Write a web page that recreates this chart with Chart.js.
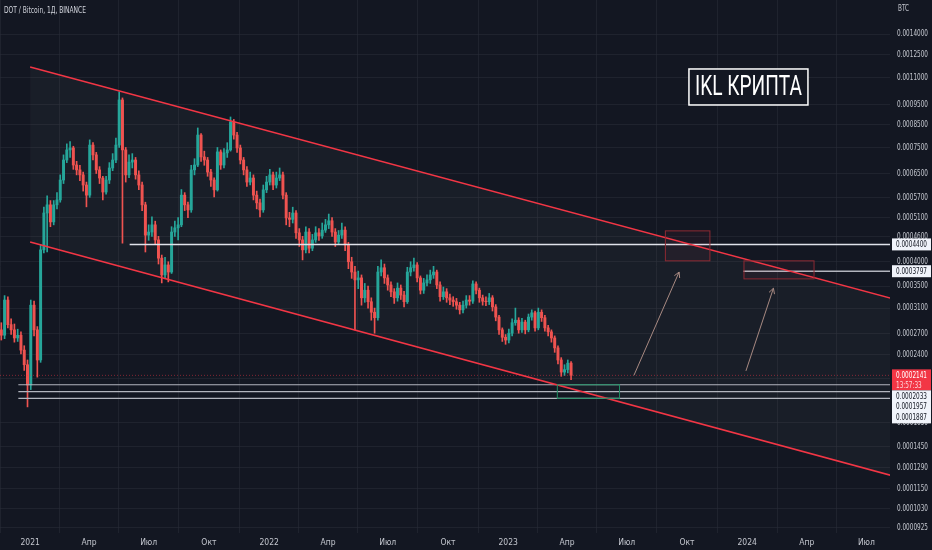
<!DOCTYPE html>
<html>
<head>
<meta charset="utf-8">
<script src="https://cdn.jsdelivr.net/npm/chart.js@4.4.1/dist/chart.umd.min.js"></script>
<style>
  html, body { margin: 0; padding: 0; background: #131722; }
  #wrap { width: 932px; height: 550px; }
</style>
</head>
<body>
<div id="wrap"><canvas id="myChart"></canvas></div>
<script>
// candles: one every 5 days, open = previous close
const firstCandleDay = "2020-11-18";
const candleStepDays = 5;
const firstOpen = 2.75e-4;

const closes = [
  2.67e-4, 3.24e-4, 2.83e-4, 2.75e-4, 2.63e-4, 2.67e-4, 2.46e-4, 2.27e-4, 2.03e-4, 3.15e-4,
  2.75e-4, 2.33e-4, 4.27e-4, 5.23e-4, 5.47e-4, 4.98e-4, 5.47e-4, 5.62e-4, 6.27e-4, 7.00e-4,
  7.40e-4, 7.48e-4, 6.81e-4, 6.63e-4, 6.45e-4, 6.10e-4, 5.77e-4, 7.60e-4, 7.20e-4, 6.63e-4,
  6.34e-4, 5.87e-4, 6.27e-4, 6.70e-4, 7.00e-4, 7.60e-4, 9.74e-4, 7.40e-4, 6.45e-4, 6.92e-4,
  7.00e-4, 6.45e-4, 6.10e-4, 5.47e-4, 4.63e-4, 4.71e-4, 4.90e-4, 4.51e-4, 4.08e-4, 3.72e-4,
  3.93e-4, 3.78e-4, 4.71e-4, 4.82e-4, 4.90e-4, 5.77e-4, 5.47e-4, 5.32e-4, 6.63e-4, 6.81e-4,
  8.03e-4, 7.12e-4, 7.00e-4, 6.55e-4, 6.27e-4, 5.94e-4, 7.32e-4, 6.81e-4, 7.28e-4, 7.40e-4,
  8.63e-4, 8.03e-4, 7.48e-4, 7.00e-4, 6.63e-4, 6.20e-4, 6.34e-4, 5.77e-4, 5.53e-4, 5.32e-4,
  5.94e-4, 6.20e-4, 6.45e-4, 6.10e-4, 6.34e-4, 6.45e-4, 5.77e-4, 5.09e-4, 5.05e-4, 5.23e-4,
  4.69e-4, 4.51e-4, 4.27e-4, 4.71e-4, 4.31e-4, 4.51e-4, 4.69e-4, 4.61e-4, 4.76e-4, 4.90e-4,
  5.01e-4, 4.71e-4, 4.46e-4, 4.63e-4, 4.76e-4, 4.39e-4, 4.00e-4, 3.78e-4, 3.62e-4, 3.66e-4,
  3.28e-4, 3.42e-4, 3.21e-4, 3.03e-4, 2.94e-4, 3.78e-4, 3.87e-4, 3.66e-4, 3.52e-4, 3.39e-4,
  3.28e-4, 3.46e-4, 3.33e-4, 3.21e-4, 3.78e-4, 3.87e-4, 3.93e-4, 3.66e-4, 3.42e-4, 3.56e-4,
  3.62e-4, 3.72e-4, 3.78e-4, 3.52e-4, 3.30e-4, 3.39e-4, 3.28e-4, 3.24e-4, 3.21e-4, 3.15e-4,
  3.07e-4, 3.15e-4, 3.24e-4, 3.22e-4, 3.54e-4, 3.42e-4, 3.28e-4, 3.22e-4, 3.21e-4, 3.28e-4,
  3.12e-4, 2.95e-4, 2.75e-4, 2.64e-4, 2.60e-4, 2.70e-4, 2.86e-4, 2.90e-4, 2.75e-4, 2.87e-4,
  2.75e-4, 2.95e-4, 3.02e-4, 2.78e-4, 3.03e-4, 2.94e-4, 2.78e-4, 2.72e-4, 2.63e-4, 2.49e-4,
  2.33e-4, 2.18e-4, 2.21e-4, 2.29e-4, 2.141e-4
];

const highs = [
  2.86e-4, 3.32e-4, 3.30e-4, 2.92e-4, 2.84e-4, 2.76e-4, 2.72e-4, 2.52e-4, 2.33e-4, 3.24e-4,
  3.22e-4, 2.80e-4, 4.40e-4, 5.40e-4, 5.75e-4, 5.60e-4, 5.60e-4, 5.85e-4, 6.45e-4, 7.20e-4,
  7.65e-4, 7.75e-4, 7.55e-4, 6.95e-4, 6.80e-4, 6.55e-4, 6.20e-4, 7.82e-4, 7.70e-4, 7.30e-4,
  6.75e-4, 6.40e-4, 6.40e-4, 6.90e-4, 7.25e-4, 7.90e-4, 10.18e-4, 9.85e-4, 7.50e-4, 7.20e-4,
  7.25e-4, 7.10e-4, 6.60e-4, 6.20e-4, 5.55e-4, 4.90e-4, 5.12e-4, 5.00e-4, 4.60e-4, 4.15e-4,
  4.10e-4, 4.00e-4, 4.85e-4, 5.00e-4, 5.10e-4, 5.95e-4, 5.85e-4, 5.55e-4, 6.80e-4, 7.05e-4,
  8.35e-4, 8.10e-4, 7.35e-4, 7.10e-4, 6.65e-4, 6.35e-4, 7.50e-4, 7.40e-4, 7.45e-4, 7.70e-4,
  8.87e-4, 8.75e-4, 8.15e-4, 7.60e-4, 7.10e-4, 6.75e-4, 6.55e-4, 6.45e-4, 5.90e-4, 5.65e-4,
  6.10e-4, 6.40e-4, 6.65e-4, 6.55e-4, 6.55e-4, 6.70e-4, 6.55e-4, 5.85e-4, 5.25e-4, 5.40e-4,
  5.30e-4, 4.80e-4, 4.60e-4, 4.85e-4, 4.80e-4, 4.65e-4, 4.85e-4, 4.80e-4, 4.95e-4, 5.05e-4,
  5.20e-4, 5.10e-4, 4.80e-4, 4.75e-4, 4.95e-4, 4.85e-4, 4.45e-4, 4.10e-4, 3.90e-4, 3.80e-4,
  3.72e-4, 3.55e-4, 3.50e-4, 3.28e-4, 3.10e-4, 3.90e-4, 4.04e-4, 3.95e-4, 3.72e-4, 3.58e-4,
  3.45e-4, 3.56e-4, 3.52e-4, 3.40e-4, 3.88e-4, 4.00e-4, 4.08e-4, 3.98e-4, 3.70e-4, 3.65e-4,
  3.72e-4, 3.82e-4, 3.90e-4, 3.82e-4, 3.58e-4, 3.48e-4, 3.45e-4, 3.35e-4, 3.30e-4, 3.27e-4,
  3.20e-4, 3.22e-4, 3.32e-4, 3.32e-4, 3.60e-4, 3.58e-4, 3.46e-4, 3.33e-4, 3.30e-4, 3.36e-4,
  3.32e-4, 3.16e-4, 2.98e-4, 2.78e-4, 2.68e-4, 2.76e-4, 2.92e-4, 3.10e-4, 2.94e-4, 2.93e-4,
  2.90e-4, 3.00e-4, 3.07e-4, 3.05e-4, 3.10e-4, 3.07e-4, 2.98e-4, 2.82e-4, 2.75e-4, 2.66e-4,
  2.52e-4, 2.36e-4, 2.27e-4, 2.33e-4, 2.31e-4
];

const lows = [
  2.60e-4, 2.62e-4, 2.78e-4, 2.68e-4, 2.57e-4, 2.58e-4, 2.41e-4, 2.20e-4, 1.80e-4, 1.98e-4,
  2.66e-4, 2.12e-4, 2.30e-4, 4.20e-4, 4.22e-4, 4.85e-4, 4.90e-4, 5.35e-4, 5.55e-4, 6.15e-4,
  6.90e-4, 7.10e-4, 6.65e-4, 6.45e-4, 6.25e-4, 5.90e-4, 5.41e-4, 5.70e-4, 7.00e-4, 6.50e-4,
  6.15e-4, 5.62e-4, 5.80e-4, 6.15e-4, 6.60e-4, 6.90e-4, 7.50e-4, 4.43e-4, 6.20e-4, 6.35e-4,
  6.70e-4, 6.30e-4, 5.95e-4, 5.30e-4, 4.22e-4, 4.50e-4, 4.60e-4, 4.40e-4, 3.95e-4, 3.56e-4,
  3.65e-4, 3.58e-4, 3.75e-4, 4.60e-4, 4.51e-4, 4.85e-4, 5.30e-4, 5.10e-4, 5.25e-4, 6.45e-4,
  6.75e-4, 6.95e-4, 6.80e-4, 6.40e-4, 6.05e-4, 5.71e-4, 5.90e-4, 6.65e-4, 6.70e-4, 7.10e-4,
  7.35e-4, 7.85e-4, 7.30e-4, 6.85e-4, 6.45e-4, 6.05e-4, 6.10e-4, 5.62e-4, 5.35e-4, 5.12e-4,
  5.25e-4, 5.85e-4, 6.10e-4, 5.95e-4, 6.00e-4, 6.25e-4, 5.65e-4, 4.90e-4, 4.85e-4, 4.95e-4,
  4.55e-4, 4.35e-4, 4.04e-4, 4.20e-4, 4.20e-4, 4.25e-4, 4.45e-4, 4.50e-4, 4.55e-4, 4.70e-4,
  4.80e-4, 4.60e-4, 4.35e-4, 4.40e-4, 4.55e-4, 4.25e-4, 3.85e-4, 3.65e-4, 2.75e-4, 3.45e-4,
  3.15e-4, 3.20e-4, 3.10e-4, 2.90e-4, 2.70e-4, 2.90e-4, 3.70e-4, 3.55e-4, 3.42e-4, 3.30e-4,
  3.18e-4, 3.22e-4, 3.25e-4, 3.12e-4, 3.18e-4, 3.70e-4, 3.80e-4, 3.58e-4, 3.35e-4, 3.36e-4,
  3.50e-4, 3.55e-4, 3.65e-4, 3.45e-4, 3.22e-4, 3.25e-4, 3.20e-4, 3.16e-4, 3.13e-4, 3.08e-4,
  3.00e-4, 3.02e-4, 3.10e-4, 3.15e-4, 3.18e-4, 3.35e-4, 3.20e-4, 3.15e-4, 3.14e-4, 3.16e-4,
  3.05e-4, 2.89e-4, 2.68e-4, 2.58e-4, 2.54e-4, 2.56e-4, 2.66e-4, 2.82e-4, 2.70e-4, 2.71e-4,
  2.69e-4, 2.72e-4, 2.90e-4, 2.73e-4, 2.75e-4, 2.88e-4, 2.73e-4, 2.66e-4, 2.57e-4, 2.43e-4,
  2.28e-4, 2.13e-4, 2.14e-4, 2.17e-4, 2.09e-4
];

// axis ticks
const xTickDates = [
  "2021-01-01", "2021-04-01", "2021-07-01", "2021-10-01",
  "2022-01-01", "2022-04-01", "2022-07-01", "2022-10-01",
  "2023-01-01", "2023-04-01", "2023-07-01", "2023-10-01",
  "2024-01-01", "2024-04-01", "2024-07-01"
];
const xTickLabels = [
  "2021", "Апр", "Июл", "Окт", "2022", "Апр", "Июл", "Окт",
  "2023", "Апр", "Июл", "Окт", "2024", "Апр", "Июл"
];
const yTicks = [
  0.0014, 0.00125, 0.0011, 0.00095, 0.00085, 0.00075, 0.00065, 0.00057,
  0.00051, 0.00046, 0.0004, 0.00035, 0.00031, 0.00027, 0.00024, 0.00021,
  0.000165, 0.000145, 0.000129, 0.000115, 0.000103, 0.0000925
];
const xRange = ["2020-11-16", "2024-08-06"];
const yRange = [0.00008995, 0.001688];

// drawings
const channelUpper = [["2021-01-01", 0.001168], ["2024-09-01", 0.0003196]];
const channelLower = [["2021-01-01", 0.000446], ["2024-09-01", 0.0001206]];
const levelLines = [
  { price: 0.00044, from: "2021-06-02", label: "0.0004400" },
  { price: 0.0003797, from: "2023-12-26", label: "0.0003797" },
  { price: 0.0002033, from: "2020-12-14", label: "0.0002033" },
  { price: 0.0001957, from: "2020-12-14", label: "0.0001957" },
  { price: 0.0001887, from: "2020-12-14", label: "0.0001887" }
];
const lastPrice = 0.0002141;
const lastPriceTimer = "13:57:33";
const targetBoxes = [
  { from: "2023-08-29", to: "2023-11-05", top: 0.000474, bottom: 0.000402 },
  { from: "2023-12-27", to: "2024-04-12", top: 0.000402, bottom: 0.000364 }
];
const supportBox = { from: "2023-03-17", to: "2023-06-20", top: 0.0002033, bottom: 0.0001887 };
const arrows = [
  [["2023-07-12", 0.0002141], ["2023-09-19", 0.000378]],
  [["2023-12-30", 0.0002194], ["2024-02-10", 0.0003457]]
];
const brandText = "IKL КРИПТА";
const brandAt = ["2023-10-04", 0.001155];
const titleText = "DOT / Bitcoin, 1Д, BINANCE";

const DAY0 = Date.UTC(2021, 0, 1);
const day = (s) => (Date.parse(s) - DAY0) / 86400000;

const FONT = '"Liberation Sans Narrow", "DejaVu Sans Condensed", "Roboto Condensed", Roboto, sans-serif';
const TEXT = "#c3c6ce";
const GRID = "rgba(42,46,57,0.55)";
const UP = "#26a69a";
const DOWN = "#ef5350";

// build candles
const start = day(firstCandleDay);
const opens = closes.map((c, i) => (i === 0 ? firstOpen : closes[i - 1]));
const candleColors = closes.map((c, i) => (c >= opens[i] ? UP : DOWN));
const wickData = closes.map((c, i) => ({ x: start + i * candleStepDays, y: [lows[i], highs[i]] }));
const bodyData = closes.map((c, i) => ({ x: start + i * candleStepDays, y: [opens[i], c] }));

const toPoints = (arr) => arr.map(([d, v]) => ({ x: day(d), y: v }));
const lineSet = (data, color, width, order, extra) => Object.assign({
  type: "line", data, borderColor: color, borderWidth: width,
  pointRadius: 0, fill: false, order
}, extra || {});

const levelSets = levelLines.map((l, i) =>
  lineSet([{ x: day(l.from), y: l.price }, { x: day(xRange[1]) + 30, y: l.price }],
    i === 0 ? "#e0e3eb" : "#b2b5be", i < 2 ? 1.5 : 1.2, 3));

// draw text squeezed horizontally to look like the narrow chart font
function narrowText(ctx, text, x, y, sx) {
  ctx.save();
  ctx.translate(x, y);
  ctx.scale(sx, 1);
  ctx.fillText(text, 0, 0);
  ctx.restore();
}

const overlay = {
  id: "overlay",
  afterDatasetsDraw(chart) {
    const { ctx, chartArea: a, scales: { x, y } } = chart;
    const px = (d) => x.getPixelForValue(day(d));
    const py = (v) => y.getPixelForValue(v);
    ctx.save();
    ctx.beginPath();
    ctx.rect(a.left, a.top, a.width, a.height);
    ctx.clip();

    targetBoxes.forEach((b) => {
      const x0 = px(b.from), x1 = px(b.to), y0 = py(b.top), y1 = py(b.bottom);
      ctx.fillStyle = "rgba(242,54,69,0.05)";
      ctx.fillRect(x0, y0, x1 - x0, y1 - y0);
      ctx.strokeStyle = "#8e2a33";
      ctx.lineWidth = 1;
      ctx.strokeRect(x0, y0, x1 - x0, y1 - y0);
    });

    const sb = supportBox;
    ctx.strokeStyle = "#1f8f63";
    ctx.lineWidth = 1;
    ctx.strokeRect(px(sb.from), py(sb.top), px(sb.to) - px(sb.from), py(sb.bottom) - py(sb.top));

    ctx.strokeStyle = "#a88a82";
    ctx.lineWidth = 1;
    arrows.forEach(([p0, p1]) => {
      const x0 = px(p0[0]), y0 = py(p0[1]), x1 = px(p1[0]), y1 = py(p1[1]);
      const ang = Math.atan2(y1 - y0, x1 - x0);
      ctx.beginPath();
      ctx.moveTo(x0, y0);
      ctx.lineTo(x1, y1);
      ctx.moveTo(x1 - 6 * Math.cos(ang - 0.5), y1 - 6 * Math.sin(ang - 0.5));
      ctx.lineTo(x1, y1);
      ctx.lineTo(x1 - 6 * Math.cos(ang + 0.5), y1 - 6 * Math.sin(ang + 0.5));
      ctx.stroke();
    });

    // brand label
    const bx = px(brandAt[0]), by = py(brandAt[1]);
    ctx.fillStyle = "#131722";
    ctx.fillRect(bx, by, 119, 36);
    ctx.strokeStyle = "#ffffff";
    ctx.lineWidth = 1.5;
    ctx.strokeRect(bx, by, 119, 36);
    ctx.font = "28px Roboto, sans-serif";
    ctx.fillStyle = "#ffffff";
    ctx.textBaseline = "middle";
    narrowText(ctx, brandText, bx + 6, by + 19, 107 / ctx.measureText(brandText).width);
    ctx.restore();
  },
  afterDraw(chart) {
    const { ctx, chartArea: a, scales: { y } } = chart;
    ctx.save();
    ctx.textBaseline = "middle";

    ctx.font = "9.5px " + FONT;
    ctx.fillStyle = "#d1d4dc";
    narrowText(ctx, titleText, 4, 11, 82 / ctx.measureText(titleText).width);

    ctx.font = "9px " + FONT;
    const sx = 31 / ctx.measureText("0.0014000").width;
    ctx.fillStyle = TEXT;
    narrowText(ctx, "BTC", a.right + 8, 9, sx);
    yTicks.forEach((v) => {
      narrowText(ctx, v.toFixed(7), a.right + 7, y.getPixelForValue(v), sx);
    });

    const bx = a.right + 2, bw = 39;
    const tag = (yc, h, bg, lines, fg) => {
      ctx.fillStyle = bg;
      ctx.fillRect(bx, yc, bw, h);
      lines.forEach((t, i) => {
        ctx.fillStyle = fg[i];
        narrowText(ctx, t, bx + 4, yc + 6 + i * 10.5, sx);
      });
    };
    tag(y.getPixelForValue(levelLines[0].price) - 6, 12, "#f0f3fa", [levelLines[0].label], ["#131722"]);
    tag(y.getPixelForValue(levelLines[1].price) - 6, 12, "#f0f3fa", [levelLines[1].label], ["#131722"]);
    const ly = y.getPixelForValue(lastPrice) - 6;
    tag(ly, 21, "#f23645", [lastPrice.toFixed(7), lastPriceTimer], ["#ffffff", "rgba(255,255,255,0.8)"]);
    tag(ly + 21, 33, "#f0f3fa", levelLines.slice(2).map((l) => l.label), ["#131722", "#131722", "#131722"]);
    ctx.restore();
  }
};

new Chart(document.getElementById("myChart"), {
  type: "bar",
  data: {
    datasets: [
      { type: "bar", data: wickData, backgroundColor: candleColors, barThickness: 1, grouped: false, order: 6 },
      { type: "bar", data: bodyData, backgroundColor: candleColors, barThickness: 2.3, grouped: false, order: 5 },
      lineSet(toPoints(channelUpper), "#f23645", 1.6, 1),
      lineSet(toPoints(channelLower), "#f23645", 1.6, 1, { fill: "-1", backgroundColor: "rgba(120,123,134,0.07)" }),
      lineSet([{ x: day(xRange[0]), y: lastPrice }, { x: day(xRange[1]), y: lastPrice }],
        "rgba(242,54,69,0.5)", 1, 4, { borderDash: [1, 2] }),
      ...levelSets
    ]
  },
  options: {
    responsive: true,
    maintainAspectRatio: false,
    animation: false,
    layout: { padding: 0 },
    plugins: {
      legend: { display: false },
      tooltip: { enabled: false },
      filler: { drawTime: "beforeDatasetsDraw" }
    },
    scales: {
      x: {
        type: "linear",
        min: day(xRange[0]),
        max: day(xRange[1]),
        offset: false,
        grid: { color: GRID, drawTicks: false },
        border: { display: false },
        ticks: {
          color: TEXT, font: { family: FONT, size: 8.5 }, padding: 5,
          maxRotation: 0, autoSkip: false,
          callback: (v, i) => xTickLabels[i]
        },
        afterBuildTicks: (s) => { s.ticks = xTickDates.map((d) => ({ value: day(d) })); },
        afterFit: (s) => { s.height = 17; }
      },
      y: {
        type: "logarithmic",
        position: "right",
        min: yRange[0],
        max: yRange[1],
        grid: { color: GRID, drawTicks: false },
        border: { display: false },
        ticks: { display: false },
        afterBuildTicks: (s) => { s.ticks = yTicks.map((v) => ({ value: v })); },
        afterFit: (s) => { s.width = 42; }
      }
    }
  },
  plugins: [overlay]
});
</script>
</body>
</html>
